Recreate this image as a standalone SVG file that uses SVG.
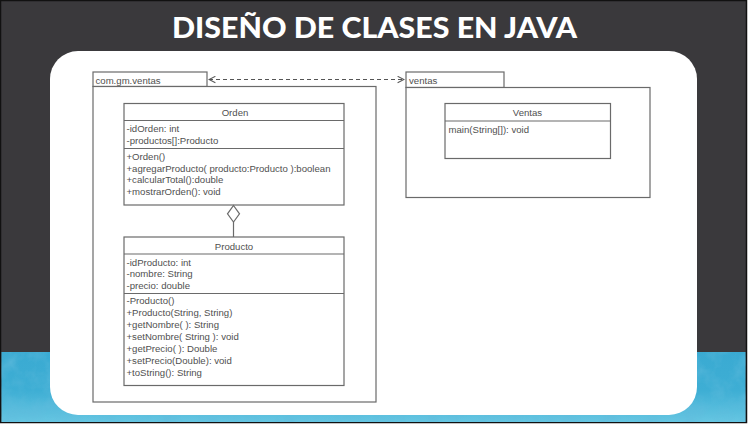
<svg xmlns="http://www.w3.org/2000/svg" width="751" height="425" viewBox="0 0 751 425">
  <defs>
    <style>
      .box { fill: #ffffff; stroke: #6a6a6a; stroke-width: 1.2; }
      .ln { stroke: #6a6a6a; stroke-width: 1.2; fill: none; }
      .t { font-family: "Liberation Sans", Arial, sans-serif; font-size: 9.6px; fill: #505050; }
      .c { text-anchor: middle; }
      .title { font-family: "Lato", "Liberation Sans", sans-serif; font-weight: 900; font-size: 28px; fill: #ffffff; }
    </style>
    <linearGradient id="blue" x1="0" y1="0" x2="0" y2="1">
      <stop offset="0" stop-color="#3aaad2"/>
      <stop offset="0.55" stop-color="#3eaed4"/>
      <stop offset="1" stop-color="#66c6e2"/>
    </linearGradient>
    <filter id="noise" x="0" y="0" width="100%" height="100%">
      <feTurbulence type="fractalNoise" baseFrequency="0.05" numOctaves="4" seed="7" result="n"/>
      <feColorMatrix in="n" type="matrix" values="0 0 0 0 0.12  0 0 0 0 0.5  0 0 0 0 0.72  0 0 0 1.8 -0.7" result="c"/>
      <feComposite in="c" in2="SourceGraphic" operator="in"/>
    </filter>
    <marker id="open" viewBox="0 0 10 10" refX="9" refY="5" markerWidth="8" markerHeight="8" markerUnits="userSpaceOnUse" orient="auto-start-reverse">
      <path d="M1,1 L9,5 L1,9" fill="none" stroke="#555555" stroke-width="1.3"/>
    </marker>
  </defs>

  <!-- frame background -->
  <rect x="0" y="0" width="751" height="425" fill="#ffffff"/>
  <rect x="0.5" y="0.5" width="746" height="422" fill="#3a393c" stroke="#111111" stroke-width="1.5"/>
  <rect x="1.5" y="352" width="744" height="70" fill="url(#blue)"/>
  <rect x="1.5" y="352" width="744" height="70" fill="#ffffff" filter="url(#noise)" opacity="0.7"/>

  <!-- title -->
  <text class="title" x="172" y="38" textLength="405" lengthAdjust="spacingAndGlyphs">DISEÑO DE CLASES EN JAVA</text>

  <!-- white card -->
  <rect x="50" y="51" width="647" height="364" rx="28" ry="28" fill="#ffffff"/>

  <!-- packages -->
  <g id="pkg-com-gm-ventas">
    <rect class="box" x="93" y="72" width="114" height="14.5"/>
    <rect class="box" x="93" y="86.5" width="283" height="315.5"/>
    <text class="t" x="95.5" y="83.5">com.gm.ventas</text>
  </g>
  <g id="pkg-ventas">
    <rect class="box" x="406" y="72" width="98" height="15.5"/>
    <rect class="box" x="406" y="87.5" width="244" height="110"/>
    <text class="t" x="409" y="83.5">ventas</text>
  </g>

  <!-- classes -->
  <g id="class-orden">
    <rect class="box" x="124" y="103.5" width="220" height="101.5"/>
    <line class="ln" x1="124" y1="120.5" x2="344" y2="120.5"/>
    <line class="ln" x1="124" y1="148.5" x2="344" y2="148.5"/>
    <text class="t c" x="235" y="115.8">Orden</text>
    <text class="t" x="126.5" y="131.8">-idOrden: int</text>
    <text class="t" x="126.5" y="143.5">-productos[]:Producto</text>
    <text class="t" x="126.5" y="160.2">+Orden()</text>
    <text class="t" x="126.5" y="171.8">+agregarProducto( producto:Producto ):boolean</text>
    <text class="t" x="126.5" y="183.4">+calcularTotal():double</text>
    <text class="t" x="126.5" y="195">+mostrarOrden(): void</text>
  </g>

  <g id="class-producto">
    <rect class="box" x="124" y="237" width="220" height="148.5"/>
    <line class="ln" x1="124" y1="254" x2="344" y2="254"/>
    <line class="ln" x1="124" y1="293.5" x2="344" y2="293.5"/>
    <text class="t c" x="234" y="250.2">Producto</text>
    <text class="t" x="126.5" y="265.8">-idProducto: int</text>
    <text class="t" x="126.5" y="277.3">-nombre: String</text>
    <text class="t" x="126.5" y="288.8">-precio: double</text>
    <text class="t" x="126.5" y="304.2">-Producto()</text>
    <text class="t" x="126.5" y="316.1">+Producto(String, String)</text>
    <text class="t" x="126.5" y="328">+getNombre( ): String</text>
    <text class="t" x="126.5" y="339.9">+setNombre( String ): void</text>
    <text class="t" x="126.5" y="351.8">+getPrecio( ): Double</text>
    <text class="t" x="126.5" y="363.7">+setPrecio(Double): void</text>
    <text class="t" x="126.5" y="375.6">+toString(): String</text>
  </g>

  <g id="class-ventas">
    <rect class="box" x="445" y="103.5" width="165.5" height="55"/>
    <line class="ln" x1="445" y1="121" x2="610.5" y2="121"/>
    <text class="t c" x="527.5" y="116">Ventas</text>
    <text class="t" x="448.5" y="132.8">main(String[]): void</text>
  </g>

  <!-- connectors -->
  <g id="connectors">
    <line x1="209" y1="79.5" x2="404" y2="79.5" stroke="#555555" stroke-width="1.1" stroke-dasharray="4,3" marker-start="url(#open)" marker-end="url(#open)"/>
    <line class="ln" x1="233.5" y1="222" x2="233.5" y2="237"/>
    <path d="M233.5,205.5 L239.5,213.8 L233.5,222 L227.5,213.8 Z" fill="#ffffff" stroke="#6a6a6a" stroke-width="1.2"/>
  </g>
</svg>
